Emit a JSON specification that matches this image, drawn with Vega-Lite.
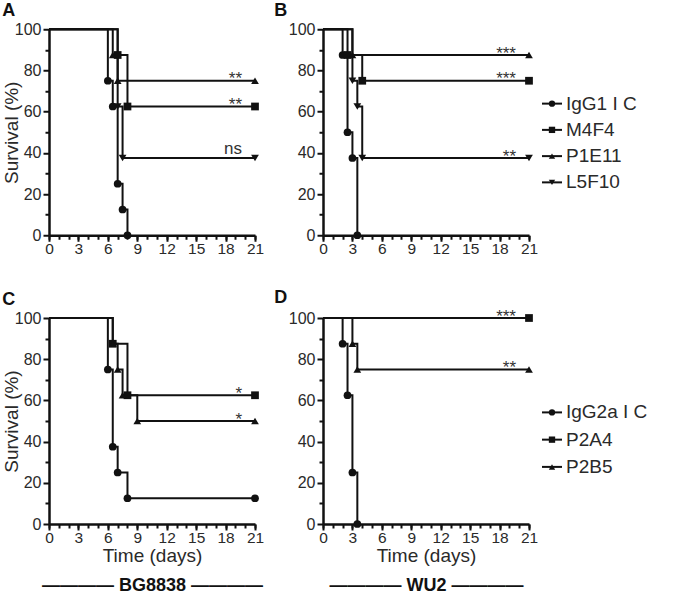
{
"$schema":"https://vega.github.io/schema/vega-lite/v6.json",
"padding":{"left":2,"top":2,"right":5,"bottom":5},
"background":"white",
"config":{
 "font":"Liberation Sans",
 "view":{"stroke":null},
 "axis":{"grid":false,"domainColor":"#111","domainWidth":2.5,"tickColor":"#111","tickWidth":2,"labelFontSize":16,"labelColor":"#2a2a2a","titleFontSize":19,"titleFontWeight":"normal","titleColor":"#2a2a2a","labelFlush":false,"labelOverlap":false,"labelPadding":0},
 "axisX":{"labelFontSize":15.5},
 "title":{"fontSize":18,"fontWeight":"bold","color":"#111"}
},
"datasets":{
 "km":[
  {"p":"A","g":"IgG1 I C","t":0,"s":100},{"p":"A","g":"IgG1 I C","t":6,"s":75},{"p":"A","g":"IgG1 I C","t":6.5,"s":62.5},{"p":"A","g":"IgG1 I C","t":7,"s":25},{"p":"A","g":"IgG1 I C","t":7.5,"s":12.5},{"p":"A","g":"IgG1 I C","t":8,"s":0},
  {"p":"A","g":"M4F4","t":0,"s":100},{"p":"A","g":"M4F4","t":7,"s":87.5},{"p":"A","g":"M4F4","t":8,"s":62.5},{"p":"A","g":"M4F4","t":21,"s":62.5,"sig":"**"},
  {"p":"A","g":"P1E11","t":0,"s":100},{"p":"A","g":"P1E11","t":6.5,"s":87.5},{"p":"A","g":"P1E11","t":7,"s":75},{"p":"A","g":"P1E11","t":21,"s":75,"sig":"**"},
  {"p":"A","g":"L5F10","t":0,"s":100},{"p":"A","g":"L5F10","t":7,"s":62.5},{"p":"A","g":"L5F10","t":7.5,"s":37.5},{"p":"A","g":"L5F10","t":21,"s":37.5,"sig":"ns"},
  {"p":"B","g":"IgG1 I C","t":0,"s":100},{"p":"B","g":"IgG1 I C","t":2,"s":87.5},{"p":"B","g":"IgG1 I C","t":2.5,"s":50},{"p":"B","g":"IgG1 I C","t":3,"s":37.5},{"p":"B","g":"IgG1 I C","t":3.5,"s":0},
  {"p":"B","g":"M4F4","t":0,"s":100},{"p":"B","g":"M4F4","t":2.5,"s":87.5},{"p":"B","g":"M4F4","t":4,"s":75},{"p":"B","g":"M4F4","t":21,"s":75,"sig":"***"},
  {"p":"B","g":"P1E11","t":0,"s":100},{"p":"B","g":"P1E11","t":3,"s":87.5},{"p":"B","g":"P1E11","t":21,"s":87.5,"sig":"***"},
  {"p":"B","g":"L5F10","t":0,"s":100},{"p":"B","g":"L5F10","t":3,"s":75},{"p":"B","g":"L5F10","t":3.5,"s":62.5},{"p":"B","g":"L5F10","t":4,"s":37.5},{"p":"B","g":"L5F10","t":21,"s":37.5,"sig":"**"},
  {"p":"C","g":"IgG2a I C","t":0,"s":100},{"p":"C","g":"IgG2a I C","t":6,"s":75},{"p":"C","g":"IgG2a I C","t":6.5,"s":37.5},{"p":"C","g":"IgG2a I C","t":7,"s":25},{"p":"C","g":"IgG2a I C","t":8,"s":12.5},{"p":"C","g":"IgG2a I C","t":21,"s":12.5},
  {"p":"C","g":"P2A4","t":0,"s":100},{"p":"C","g":"P2A4","t":6.5,"s":87.5},{"p":"C","g":"P2A4","t":8,"s":62.5},{"p":"C","g":"P2A4","t":21,"s":62.5,"sig":"*"},
  {"p":"C","g":"P2B5","t":0,"s":100},{"p":"C","g":"P2B5","t":6.5,"s":87.5},{"p":"C","g":"P2B5","t":7,"s":75},{"p":"C","g":"P2B5","t":7.5,"s":62.5},{"p":"C","g":"P2B5","t":9,"s":50},{"p":"C","g":"P2B5","t":21,"s":50,"sig":"*"},
  {"p":"D","g":"IgG2a I C","t":0,"s":100},{"p":"D","g":"IgG2a I C","t":2,"s":87.5},{"p":"D","g":"IgG2a I C","t":2.5,"s":62.5},{"p":"D","g":"IgG2a I C","t":3,"s":25},{"p":"D","g":"IgG2a I C","t":3.5,"s":0},
  {"p":"D","g":"P2A4","t":0,"s":100},{"p":"D","g":"P2A4","t":21,"s":100,"sig":"***"},
  {"p":"D","g":"P2B5","t":0,"s":100},{"p":"D","g":"P2B5","t":3,"s":87.5},{"p":"D","g":"P2B5","t":3.5,"s":75},{"p":"D","g":"P2B5","t":21,"s":75,"sig":"**"}
 ],
 "leg":[
  {"r":1,"g":"IgG1 I C"},{"r":1,"g":"M4F4"},{"r":1,"g":"P1E11"},{"r":1,"g":"L5F10"},
  {"r":2,"g":"IgG2a I C"},{"r":2,"g":"P2A4"},{"r":2,"g":"P2B5"}
 ]
},
"spacing":31,
"resolve":{"scale":{"x":"independent","y":"independent"}},
"vconcat":[
 {"hconcat":[
   {"hconcat":[
     {"width":206,"height":206,
      "title":{"text":"A","anchor":"start","frame":"bounds","offset":1},
      "data":{"name":"km"},"transform":[{"filter":"datum.p == 'A'"}],
      "layer":[
       {"mark":{"type":"line","interpolate":"step-after","color":"#111","strokeWidth":2},
        "encoding":{"x":{"field":"t","type":"quantitative","scale":{"domain":[0,21],"nice":false},"axis":{"values":[0,3,6,9,12,15,18,21],"title":null,"tickSize":6}},
                    "y":{"field":"s","type":"quantitative","scale":{"domain":[0,100],"nice":false},"axis":{"values":[0,20,40,60,80,100],"title":"Survival (%)","tickSize":6,"labelPadding":2,"titlePadding":-7}},
                    "detail":{"field":"g"}}},
       {"transform":[{"filter":"datum.t > 0"}],
        "mark":{"type":"point","filled":true,"color":"#111","size":60,"opacity":1},
        "encoding":{"x":{"field":"t","type":"quantitative","axis":{"orient":"bottom","values":[0,1,2,3,4,5,6,7,8,9,10,11,12,13,14,15,16,17,18,19,20,21],"labels":false,"domain":false,"tickSize":4,"title":null}},
                    "y":{"field":"s","type":"quantitative","axis":{"orient":"left","values":[10,30,50,70,90],"labels":false,"domain":false,"tickSize":4,"title":null}},
                    "shape":{"field":"g","type":"nominal","scale":{"domain":["IgG1 I C","M4F4","P1E11","L5F10","IgG2a I C","P2A4","P2B5"],"range":["circle","square","triangle-up","triangle-down","circle","square","triangle-up"]},"legend":null}}},
       {"transform":[{"filter":"datum.sig != null && datum.sig != 'ns'"}],
        "mark":{"type":"text","align":"right","baseline":"alphabetic","fontSize":17,"dx":-13,"dy":3.5,"color":"#333"},
        "encoding":{"x":{"field":"t","type":"quantitative","axis":null},"y":{"field":"s","type":"quantitative","axis":null},"text":{"field":"sig"}}},
       {"transform":[{"filter":"datum.sig == 'ns'"}],
        "mark":{"type":"text","align":"right","baseline":"alphabetic","fontSize":17,"dx":-13,"dy":-4.5,"color":"#333"},
        "encoding":{"x":{"field":"t","type":"quantitative","axis":null},"y":{"field":"s","type":"quantitative","axis":null},"text":{"field":"sig"}}}
      ],
      "resolve":{"axis":{"x":"independent","y":"independent"}}},
     {"width":206,"height":206,
      "title":{"text":"B","anchor":"start","frame":"bounds","offset":1,"dx":-14},
      "data":{"name":"km"},"transform":[{"filter":"datum.p == 'B'"}],
      "layer":[
       {"mark":{"type":"line","interpolate":"step-after","color":"#111","strokeWidth":2},
        "encoding":{"x":{"field":"t","type":"quantitative","scale":{"domain":[0,21],"nice":false},"axis":{"values":[0,3,6,9,12,15,18,21],"title":null,"tickSize":6}},
                    "y":{"field":"s","type":"quantitative","scale":{"domain":[0,100],"nice":false},"axis":{"values":[0,20,40,60,80,100],"title":null,"tickSize":6,"labelPadding":2}},
                    "detail":{"field":"g"}}},
       {"transform":[{"filter":"datum.t > 0"}],
        "mark":{"type":"point","filled":true,"color":"#111","size":60,"opacity":1},
        "encoding":{"x":{"field":"t","type":"quantitative","axis":{"orient":"bottom","values":[0,1,2,3,4,5,6,7,8,9,10,11,12,13,14,15,16,17,18,19,20,21],"labels":false,"domain":false,"tickSize":4,"title":null}},
                    "y":{"field":"s","type":"quantitative","axis":{"orient":"left","values":[10,30,50,70,90],"labels":false,"domain":false,"tickSize":4,"title":null}},
                    "shape":{"field":"g","type":"nominal","scale":{"domain":["IgG1 I C","M4F4","P1E11","L5F10","IgG2a I C","P2A4","P2B5"],"range":["circle","square","triangle-up","triangle-down","circle","square","triangle-up"]},"legend":null}}},
       {"transform":[{"filter":"datum.sig != null && datum.sig != 'ns'"}],
        "mark":{"type":"text","align":"right","baseline":"alphabetic","fontSize":17,"dx":-13,"dy":3.5,"color":"#333"},
        "encoding":{"x":{"field":"t","type":"quantitative","axis":null},"y":{"field":"s","type":"quantitative","axis":null},"text":{"field":"sig"}}}
      ],
      "resolve":{"axis":{"x":"independent","y":"independent"}}}
   ],"spacing":10,"resolve":{"scale":{"x":"independent","y":"independent"}}},
   {"width":110,"height":105,
    "data":{"name":"leg"},"transform":[{"filter":"datum.r == 1"}],
    "layer":[
     {"mark":{"type":"rule","color":"#111","strokeWidth":2},
      "encoding":{"x":{"datum":0,"type":"quantitative","scale":{"domain":[0,110],"nice":false},"axis":null},"x2":{"datum":20},
                  "y":{"field":"g","type":"nominal","scale":{"type":"point","padding":0.5,"domain":["IgG1 I C","M4F4","P1E11","L5F10"]},"axis":null}}},
     {"mark":{"type":"point","filled":true,"color":"#111","size":40,"opacity":1},
      "encoding":{"x":{"datum":10,"type":"quantitative","axis":null},"y":{"field":"g","type":"nominal","axis":null},
                  "shape":{"field":"g","type":"nominal","scale":{"domain":["IgG1 I C","M4F4","P1E11","L5F10","IgG2a I C","P2A4","P2B5"],"range":["circle","square","triangle-up","triangle-down","circle","square","triangle-up"]},"legend":null}}},
     {"mark":{"type":"text","align":"left","fontSize":19,"color":"#2a2a2a"},
      "encoding":{"x":{"datum":24,"type":"quantitative","axis":null},"y":{"field":"g","type":"nominal","axis":null},"text":{"field":"g"}}}
    ]}
 ],"spacing":3,"center":true,"resolve":{"scale":{"x":"independent","y":"independent"}}},
 {"hconcat":[
   {"hconcat":[
     {"width":206,"height":206,
      "title":{"text":"C","anchor":"start","frame":"bounds","offset":1},
      "data":{"name":"km"},"transform":[{"filter":"datum.p == 'C'"}],
      "layer":[
       {"mark":{"type":"line","interpolate":"step-after","color":"#111","strokeWidth":2},
        "encoding":{"x":{"field":"t","type":"quantitative","scale":{"domain":[0,21],"nice":false},"axis":{"values":[0,3,6,9,12,15,18,21],"title":"Time (days)","tickSize":6,"titlePadding":1}},
                    "y":{"field":"s","type":"quantitative","scale":{"domain":[0,100],"nice":false},"axis":{"values":[0,20,40,60,80,100],"title":"Survival (%)","tickSize":6,"labelPadding":2,"titlePadding":-7}},
                    "detail":{"field":"g"}}},
       {"transform":[{"filter":"datum.t > 0"}],
        "mark":{"type":"point","filled":true,"color":"#111","size":60,"opacity":1},
        "encoding":{"x":{"field":"t","type":"quantitative","axis":{"orient":"bottom","values":[0,1,2,3,4,5,6,7,8,9,10,11,12,13,14,15,16,17,18,19,20,21],"labels":false,"domain":false,"tickSize":4,"title":"———— BG8838 ————","titleFontWeight":"bold","titleFontSize":18,"titleColor":"#111","titlePadding":47}},
                    "y":{"field":"s","type":"quantitative","axis":{"orient":"left","values":[10,30,50,70,90],"labels":false,"domain":false,"tickSize":4,"title":null}},
                    "shape":{"field":"g","type":"nominal","scale":{"domain":["IgG1 I C","M4F4","P1E11","L5F10","IgG2a I C","P2A4","P2B5"],"range":["circle","square","triangle-up","triangle-down","circle","square","triangle-up"]},"legend":null}}},
       {"transform":[{"filter":"datum.sig != null && datum.sig != 'ns'"}],
        "mark":{"type":"text","align":"right","baseline":"alphabetic","fontSize":17,"dx":-13,"dy":3.5,"color":"#333"},
        "encoding":{"x":{"field":"t","type":"quantitative","axis":null},"y":{"field":"s","type":"quantitative","axis":null},"text":{"field":"sig"}}}
      ],
      "resolve":{"axis":{"x":"independent","y":"independent"}}},
     {"width":206,"height":206,
      "title":{"text":"D","anchor":"start","frame":"bounds","offset":1,"dx":-14},
      "data":{"name":"km"},"transform":[{"filter":"datum.p == 'D'"}],
      "layer":[
       {"mark":{"type":"line","interpolate":"step-after","color":"#111","strokeWidth":2},
        "encoding":{"x":{"field":"t","type":"quantitative","scale":{"domain":[0,21],"nice":false},"axis":{"values":[0,3,6,9,12,15,18,21],"title":"Time (days)","tickSize":6,"titlePadding":1}},
                    "y":{"field":"s","type":"quantitative","scale":{"domain":[0,100],"nice":false},"axis":{"values":[0,20,40,60,80,100],"title":null,"tickSize":6,"labelPadding":2}},
                    "detail":{"field":"g"}}},
       {"transform":[{"filter":"datum.t > 0"}],
        "mark":{"type":"point","filled":true,"color":"#111","size":60,"opacity":1},
        "encoding":{"x":{"field":"t","type":"quantitative","axis":{"orient":"bottom","values":[0,1,2,3,4,5,6,7,8,9,10,11,12,13,14,15,16,17,18,19,20,21],"labels":false,"domain":false,"tickSize":4,"title":"———— WU2 ————","titleFontWeight":"bold","titleFontSize":18,"titleColor":"#111","titlePadding":47}},
                    "y":{"field":"s","type":"quantitative","axis":{"orient":"left","values":[10,30,50,70,90],"labels":false,"domain":false,"tickSize":4,"title":null}},
                    "shape":{"field":"g","type":"nominal","scale":{"domain":["IgG1 I C","M4F4","P1E11","L5F10","IgG2a I C","P2A4","P2B5"],"range":["circle","square","triangle-up","triangle-down","circle","square","triangle-up"]},"legend":null}}},
       {"transform":[{"filter":"datum.sig != null && datum.sig != 'ns'"}],
        "mark":{"type":"text","align":"right","baseline":"alphabetic","fontSize":17,"dx":-13,"dy":3.5,"color":"#333"},
        "encoding":{"x":{"field":"t","type":"quantitative","axis":null},"y":{"field":"s","type":"quantitative","axis":null},"text":{"field":"sig"}}}
      ],
      "resolve":{"axis":{"x":"independent","y":"independent"}}}
   ],"spacing":10,"resolve":{"scale":{"x":"independent","y":"independent"}}},
   {"width":110,"height":109,
    "data":{"name":"leg"},"transform":[{"filter":"datum.r == 2"}],
    "layer":[
     {"mark":{"type":"rule","color":"#111","strokeWidth":2},
      "encoding":{"x":{"datum":0,"type":"quantitative","scale":{"domain":[0,110],"nice":false},"axis":null},"x2":{"datum":20},
                  "y":{"field":"g","type":"nominal","scale":{"type":"point","padding":1,"align":0.2,"domain":["IgG2a I C","P2A4","P2B5"]},"axis":null}}},
     {"mark":{"type":"point","filled":true,"color":"#111","size":40,"opacity":1},
      "encoding":{"x":{"datum":10,"type":"quantitative","axis":null},"y":{"field":"g","type":"nominal","axis":null},
                  "shape":{"field":"g","type":"nominal","scale":{"domain":["IgG1 I C","M4F4","P1E11","L5F10","IgG2a I C","P2A4","P2B5"],"range":["circle","square","triangle-up","triangle-down","circle","square","triangle-up"]},"legend":null}}},
     {"mark":{"type":"text","align":"left","fontSize":19,"color":"#2a2a2a"},
      "encoding":{"x":{"datum":24,"type":"quantitative","axis":null},"y":{"field":"g","type":"nominal","axis":null},"text":{"field":"g"}}}
    ]}
 ],"spacing":3,"center":true,"resolve":{"scale":{"x":"independent","y":"independent"}}}
]
}
